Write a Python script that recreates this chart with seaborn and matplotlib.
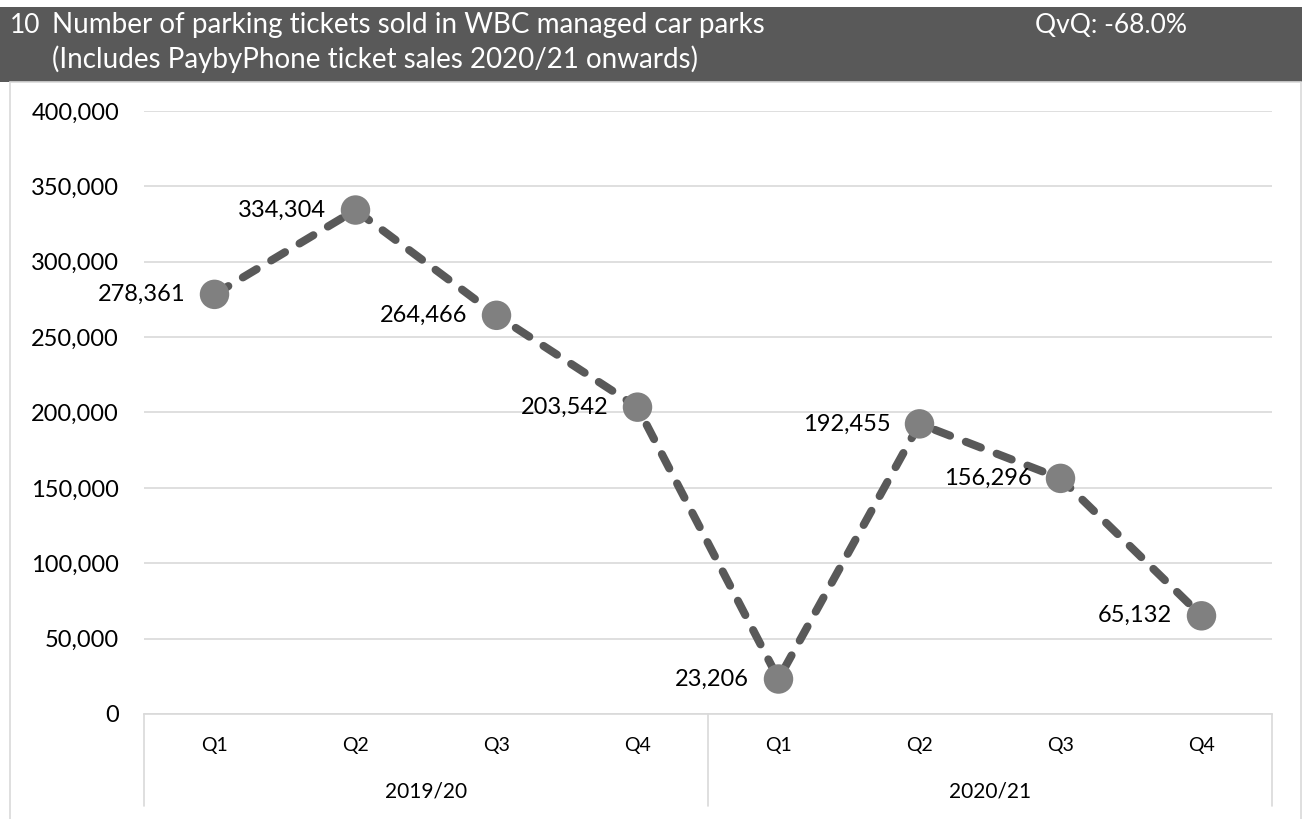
import numpy as np
import pandas as pd
import matplotlib
matplotlib.use("Agg")
import matplotlib.pyplot as plt
from matplotlib.patches import Rectangle
from matplotlib.ticker import FuncFormatter
import seaborn as sns

sns.set_theme(style="white")
plt.rcParams['font.family'] = ['Lato', 'DejaVu Sans']

# data
quarters = ['Q1', 'Q2', 'Q3', 'Q4', 'Q1', 'Q2', 'Q3', 'Q4']
years = ['2019/20', '2020/21']
tickets = [278361, 334304, 264466, 203542, 23206, 192455, 156296, 65132]
title_line1 = "Number of parking tickets sold in WBC managed car parks"
title_line2 = "(Includes PaybyPhone ticket sales 2020/21 onwards)"
chart_no = "10"
change_text = "QvQ: -68.0%"

df = pd.DataFrame({"pos": np.arange(len(tickets)), "tickets": tickets})

W, H = 1304, 819
fig = plt.figure(figsize=(W / 100, H / 100), dpi=100)

# title bar and chart frame
fig.patches.append(Rectangle((0, 1 - 82 / H), 1302 / W, 75 / H, transform=fig.transFigure,
                             facecolor="#595959", edgecolor="none", zorder=0))
fig.patches.append(Rectangle((10 / W, -0.01), 1291 / W, 1 - 82 / H + 0.01, transform=fig.transFigure,
                             facecolor="none", edgecolor="#d9d9d9", linewidth=1.2, zorder=0))
title_fs = 20
fig.text(10 / W, 1 - 33 / H, chart_no, color="white", fontsize=title_fs - 1, va="baseline")
fig.text(52 / W, 1 - 33 / H, title_line1, color="white", fontsize=title_fs, va="baseline")
fig.text(52 / W, 1 - 68 / H, title_line2, color="white", fontsize=title_fs, va="baseline")
fig.text(1035 / W, 1 - 33 / H, change_text, color="white", fontsize=title_fs - 1, va="baseline")

ax = fig.add_axes([144 / W, 105 / H, 1128 / W, 603 / H])

sns.lineplot(data=df, x="pos", y="tickets", ax=ax, color="#595959", linewidth=5.8,
             sort=False, zorder=2)
ax.lines[0].set_dashes((2.0, 2.1))
ax.lines[0].set_dash_capstyle("round")
sns.scatterplot(data=df, x="pos", y="tickets", ax=ax, color="#808080", s=450,
                edgecolor="none", zorder=3)

for x, y in zip(df["pos"], df["tickets"]):
    ax.annotate(f"{y:,}", (x, y), xytext=(-21, 0), textcoords="offset points",
                ha="right", va="center", fontsize=17, color="black", zorder=4)

ax.set_xlim(-0.5, len(tickets) - 0.5)
ax.set_ylim(0, 400000)
ax.set_yticks(np.arange(0, 400001, 50000))
ax.yaxis.set_major_formatter(FuncFormatter(lambda v, p: f"{int(v):,}"))
ax.tick_params(axis="y", length=0, pad=18, labelsize=17, labelcolor="black")
ax.set_xticks([])
ax.set_xlabel("")
ax.set_ylabel("")
ax.grid(axis="y", color="#d9d9d9", linewidth=1.2)
ax.set_axisbelow(True)
for side in ["top", "right", "left"]:
    ax.spines[side].set_visible(False)
ax.spines["bottom"].set_color("#d9d9d9")
ax.spines["bottom"].set_linewidth(1.2)

# two-level category axis
trans = ax.get_xaxis_transform()
px = 1 / 603  # one pixel in axes fraction (vertical)
for xb in [-0.5, 3.5, 7.5]:
    ax.plot([xb, xb], [0, -92 * px], transform=trans, color="#d9d9d9", lw=1.2, clip_on=False)
for i, q in enumerate(quarters):
    ax.text(i, -31 * px, q, transform=trans, ha="center", va="center", fontsize=14, color="black")
for j, yr in enumerate(years):
    ax.text(j * 4 + 1.5, -78 * px, yr, transform=trans, ha="center", va="center", fontsize=15, color="black")

fig.savefig("out.png", dpi=100)
